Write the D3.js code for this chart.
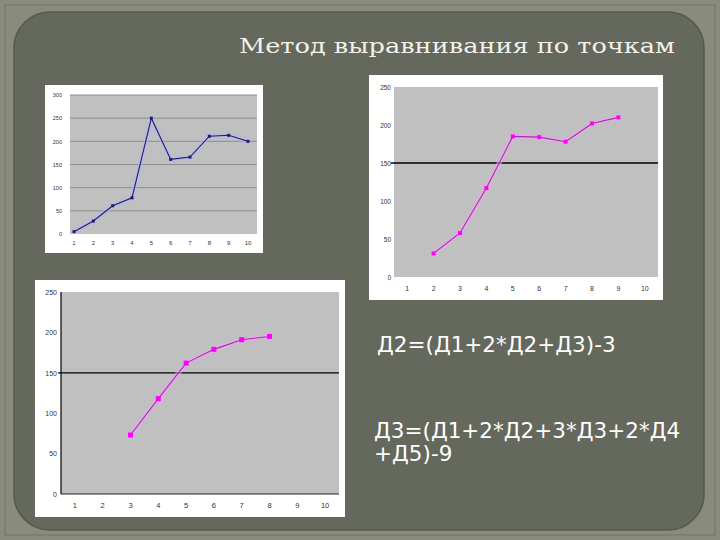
<!DOCTYPE html>
<html><head><meta charset="utf-8">
<script src="https://cdn.jsdelivr.net/npm/d3@7"></script>
<style>html,body{margin:0;padding:0;background:#8a8d7c;}svg{display:block}</style>
</head><body>
<script>
// ---- data ----
const categories = ["1","2","3","4","5","6","7","8","9","10"];
const rawValues = [5, 28, 61, 78, 250, 161, 166, 211, 213, 200];
const smooth3Values = [null, 31, 58, 117, 185, 184, 178, 202, 210, null];
const smooth5Values = [null, null, 73, 118, 162, 179, 191, 195, null, null];
const ticksRaw = [0, 50, 100, 150, 200, 250, 300];
const ticksSmooth = [0, 50, 100, 150, 200, 250];
const refLine = 150;
const titleText = "Метод выравнивания по точкам";
const formula1 = "Д2=(Д1+2*Д2+Д3)-3";
const formula2a = "Д3=(Д1+2*Д2+3*Д3+2*Д4";
const formula2b = "+Д5)-9";

const W = 720, H = 540;
const svg = d3.select("body").append("svg").attr("width", W).attr("height", H);

// slide background
svg.append("rect").attr("width", W).attr("height", H).attr("fill", "#898c7b");
svg.append("rect").attr("x", 5).attr("y", 5).attr("width", 710).attr("height", 530)
  .attr("fill", "none").attr("stroke", "#7a7d6d").attr("stroke-width", 1.5);
svg.append("rect").attr("x", 14).attr("y", 12).attr("width", 690).attr("height", 518)
  .attr("rx", 36).attr("ry", 36).attr("fill", "#65685c").attr("stroke", "#55584d").attr("stroke-width", 1.5);

svg.append("text").attr("x", 239).attr("y", 53)
  .attr("font-family", "DejaVu Serif, Liberation Serif, serif").attr("font-size", 21)
  .attr("textLength", 436).attr("lengthAdjust", "spacingAndGlyphs")
  .attr("fill", "#f2f2ea").text(titleText);

const fText = svg.append("g").attr("font-family", "DejaVu Sans, Verdana, sans-serif")
  .attr("font-size", 21.5).attr("fill", "#ffffff");
fText.append("text").attr("x", 377).attr("y", 352).text(formula1);
fText.append("text").attr("x", 374).attr("y", 438).text(formula2a);
fText.append("text").attr("x", 374).attr("y", 461).text(formula2b);

function drawChart(cfg) {
  const g = svg.append("g");
  g.append("rect").attr("x", cfg.box[0]).attr("y", cfg.box[1])
    .attr("width", cfg.box[2] - cfg.box[0]).attr("height", cfg.box[3] - cfg.box[1])
    .attr("fill", "#ffffff");
  const [px0, py0, px1, py1] = cfg.plot;
  g.append("rect").attr("x", px0).attr("y", py0).attr("width", px1 - px0).attr("height", py1 - py0)
    .attr("fill", "#c0c0c0");
  const y = d3.scaleLinear().domain([0, cfg.ticks[cfg.ticks.length - 1]]).range([py1, py0]);
  let x;
  if (cfg.band) {
    const b = d3.scaleBand().domain(categories).range([px0, px1]);
    x = c => b(c) + b.bandwidth() / 2;
  } else {
    const p = d3.scalePoint().domain(categories).range(cfg.pointRange);
    x = c => p(c);
  }
  // gridlines
  if (cfg.grid) {
    g.selectAll(".grid").data(cfg.ticks.slice(1)).enter().append("line")
      .attr("x1", px0).attr("x2", px1).attr("y1", d => y(d)).attr("y2", d => y(d))
      .attr("stroke", "#8c8c8c").attr("stroke-width", 1);
  }
  // y axis
  const ya = g.append("g").attr("transform", `translate(${cfg.yLabelX},0)`)
    .call(d3.axisLeft(y).tickValues(cfg.ticks).tickSize(0).tickPadding(0));
  ya.select(".domain").remove();
  ya.selectAll("text").attr("font-family", "Liberation Sans, Arial, sans-serif")
    .attr("font-size", cfg.fs).attr("fill", "#333");
  // x axis labels
  const xa = g.append("g");
  xa.selectAll("text").data(categories).enter().append("text")
    .attr("x", d => x(d)).attr("y", cfg.xLabelY).attr("text-anchor", "middle")
    .attr("font-family", "Liberation Sans, Arial, sans-serif").attr("font-size", cfg.fs + 0.5)
    .attr("fill", "#333").text(d => d);
  if (cfg.axisLines) {
    g.append("line").attr("x1", px0).attr("x2", px0).attr("y1", py0).attr("y2", py1)
      .attr("stroke", "#000").attr("stroke-width", 1.2);
    g.append("line").attr("x1", px0).attr("x2", px1).attr("y1", py1).attr("y2", py1)
      .attr("stroke", "#222").attr("stroke-width", 1);
  }
  if (cfg.ref) {
    g.append("line").attr("x1", px0 - 3).attr("x2", px1).attr("y1", y(refLine)).attr("y2", y(refLine))
      .attr("stroke", "#000").attr("stroke-width", 1.3);
  }
  const pts = categories.map((c, i) => ({ c, v: cfg.values[i] })).filter(d => d.v !== null);
  const line = d3.line().x(d => x(d.c)).y(d => y(d.v));
  g.append("path").datum(pts).attr("d", line).attr("fill", "none")
    .attr("stroke", cfg.halo).attr("stroke-width", 5).attr("stroke-opacity", 0.55)
    .attr("stroke-linejoin", "round");
  g.append("path").datum(pts).attr("d", line).attr("fill", "none")
    .attr("stroke", cfg.color).attr("stroke-width", 1.1);
  g.selectAll(".m").data(pts).enter().append("rect")
    .attr("x", d => x(d.c) - cfg.ms / 2).attr("y", d => y(d.v) - cfg.ms / 2)
    .attr("width", cfg.ms).attr("height", cfg.ms).attr("fill", cfg.marker);
}

drawChart({
  box: [45, 85, 263, 253], plot: [70, 95, 257, 234], ticks: ticksRaw, values: rawValues,
  band: false, pointRange: [74, 248], grid: true, yLabelX: 62, xLabelY: 245, fs: 5.5,
  halo: "#b4b4ec", color: "#1c1c70", marker: "#1c1c70", ms: 3, ref: false, axisLines: false
});
drawChart({
  box: [369, 75, 663, 300], plot: [394, 87, 658, 277], ticks: ticksSmooth, values: smooth3Values,
  band: true, grid: false, yLabelX: 391, xLabelY: 291, fs: 6.5,
  halo: "#f4a0f0", color: "#a030b0", marker: "#ff00ff", ms: 4, ref: true, axisLines: false
});
drawChart({
  box: [35, 280, 345, 517], plot: [61, 292, 339, 494], ticks: ticksSmooth, values: smooth5Values,
  band: true, grid: false, yLabelX: 57, xLabelY: 508, fs: 7,
  halo: "#f4a0f0", color: "#a030b0", marker: "#ff00ff", ms: 5, ref: true, axisLines: true
});
</script>
</body></html>
